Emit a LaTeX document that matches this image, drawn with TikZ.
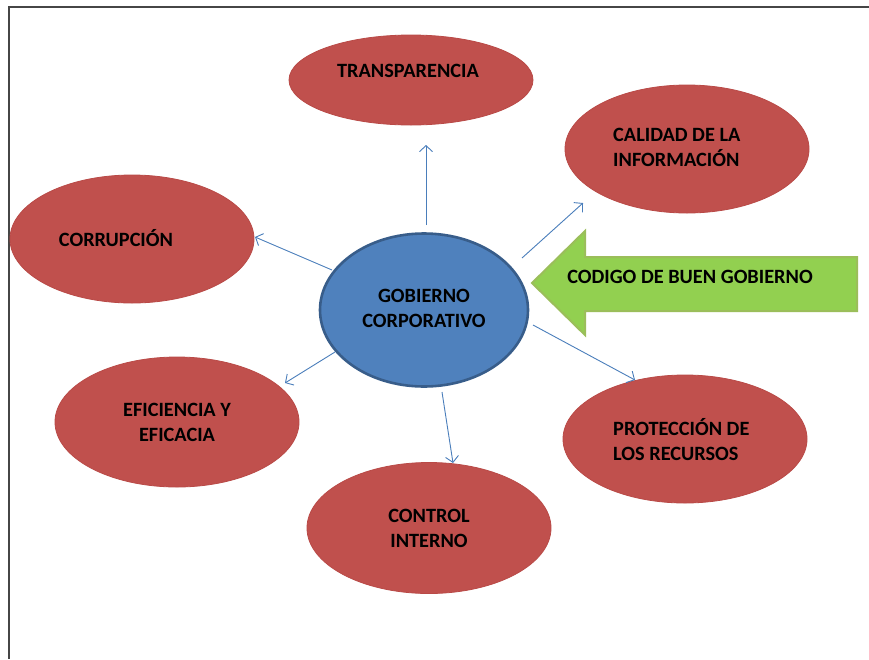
\documentclass[tikz,border=0pt]{standalone}
\usepackage{fontspec}
\setmainfont{Carlito}
\usetikzlibrary{shapes.geometric,arrows.meta}
\definecolor{topicred}{RGB}{192,80,77}
\definecolor{topicedge}{RGB}{185,74,71}
\definecolor{corefill}{RGB}{79,129,189}
\definecolor{coreedge}{RGB}{56,93,138}
\definecolor{linkblue}{RGB}{74,126,187}
\definecolor{arrowgreen}{RGB}{146,208,80}
\definecolor{arrowedge}{RGB}{155,190,90}
\definecolor{frame}{RGB}{70,70,70}
\tikzset{
  topic/.style={ellipse, fill=topicred, draw=topicedge, line width=0.8pt,
    minimum width=244pt, minimum height=128pt, inner sep=0pt},
  core/.style={ellipse, fill=corefill, draw=coreedge, line width=2.6pt,
    minimum width=208pt, minimum height=153pt, inner sep=0pt},
  label/.style={font=\bfseries\fontsize{20.3}{25}\selectfont, align=center, text=black, inner sep=0pt},
  link/.style={draw=linkblue, line width=0.9pt, -{Straight Barb[length=6pt,width=13pt,line width=0.9pt]}},
}
\begin{document}
\begin{tikzpicture}[x=1pt,y=-1pt]
\useasboundingbox (0,0) rectangle (869,659);
\fill[white] (0,0) rectangle (869,659);
% page frame
\draw[frame, line width=2pt] (869,7) -- (9,7) -- (9,659);

% topic ellipses
\node[topic, minimum height=90pt] (transp) at (411,80) {};
\node[label] at (408,71) {TRANSPARENCIA};
\node[topic] (calidad) at (687,149) {};
\node[label, align=left, anchor=west] at (613,147) {CALIDAD DE LA\\INFORMACIÓN};
\node[topic] (corrup) at (132,239) {};
\node[label] at (116,238) {CORRUPCIÓN};
\node[topic, minimum height=130pt] (efic) at (177,422) {};
\node[label] at (177,422) {EFICIENCIA Y\\EFICACIA};
\node[topic] (protec) at (685,439) {};
\node[label, align=left, anchor=west] at (613,440) {PROTECCIÓN DE\\LOS RECURSOS};
\node[topic, minimum height=131pt] (control) at (429,528) {};
\node[label] at (429,528) {CONTROL\\INTERNO};

% central ellipse
\node[core] (gob) at (424,310) {};
\node[label] at (424,308) {GOBIERNO\\CORPORATIVO};

% connector end points
\coordinate (s1) at (426,225); \coordinate (e1) at (426,145);
\coordinate (s2) at (522,258); \coordinate (e2) at (583,203);
\coordinate (s3) at (332,270); \coordinate (e3) at (255,237);
\coordinate (s4) at (335,352); \coordinate (e4) at (285,383);
\coordinate (s5) at (442,392); \coordinate (e5) at (453,463);
\coordinate (s6) at (533,325); \coordinate (e6) at (635,380);
\draw[link] (s1) -- (e1);
\draw[link] (s2) -- (e2);
\draw[link] (s3) -- (e3);
\draw[link] (s4) -- (e4);
\draw[link] (s5) -- (e5);
\draw[link] (s6) -- (e6);

% block arrow
\draw[fill=arrowgreen, draw=arrowedge, line width=2pt, line join=miter]
  (532,283) -- (585,231) -- (585,257) -- (857,257) -- (857,311)
  -- (585,311) -- (585,335) -- cycle;
\node[label] (codigo) at (690,277) {CODIGO DE BUEN GOBIERNO};
\end{tikzpicture}
\end{document}
